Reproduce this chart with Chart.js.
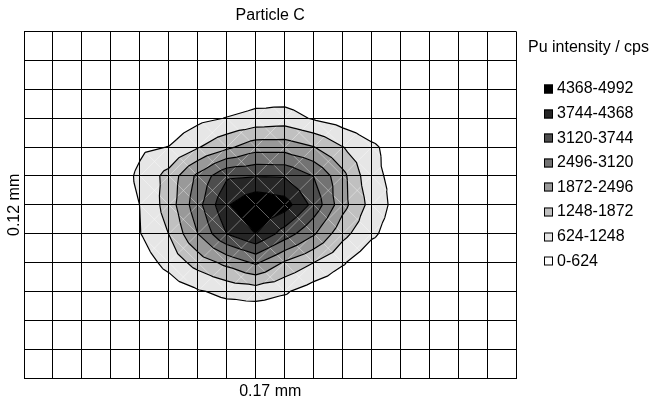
<!DOCTYPE html>
<html>
<head>
<meta charset="utf-8">
<script src="https://cdn.jsdelivr.net/npm/chart.js@4.4.0/dist/chart.umd.min.js"></script>
<style>
  html, body { margin: 0; padding: 0; background: #fff; }
  #wrap { width: 651px; height: 404px; }
</style>
</head>
<body>
<div id="wrap"><canvas id="contour-chart"></canvas></div>
<script>
// contour levels (cps) and legend labels, top entry first
const levels = [0, 624, 1248, 1872, 2496, 3120, 3744, 4368, 4992];
const bandLabels = ["4368-4992", "3744-4368", "3120-3744", "2496-3120",
                    "1872-2496", "1248-1872", "624-1248", "0-624"];
const legendTitle = "Pu intensity / cps";

// intensity read at the grid nodes, one array per row (top row first), 18 columns
const r0  = [0,0,0,0,0,0,0,0,0,0,0,0,0,0,0,0,0,0];
const r1  = [0,0,0,0,0,0,0,0,0,0,0,0,0,0,0,0,0,0];
const r2  = [0,0,0,0,0,0,0,50,250,200,50,0,0,0,0,0,0,0];
const r3  = [0,0,0,0,100,150,450,650,820,900,560,300,100,0,0,0,0,0];
const r4  = [0,0,0,50,500,640,1200,1740,2230,2230,1900,1270,740,300,0,0,0,0];
const r5  = [0,0,0,140,760,1470,2650,3650,3720,3690,3100,2060,750,450,50,0,0,0];
const r6  = [0,0,0,200,630,1530,2900,4300,4900,4650,3550,2090,1010,330,0,0,0,0];
const r7  = [0,0,0,100,600,1260,2500,3760,4380,3460,2580,1440,740,250,0,0,0,0];
const r8  = [0,0,0,0,300,820,1500,2050,2600,1800,1250,690,150,50,0,0,0,0];
const r9  = [0,0,0,0,50,260,560,790,900,700,300,100,0,0,0,0,0,0];
const r10 = [0,0,0,0,0,0,50,150,100,80,30,0,0,0,0,0,0,0];
const r11 = [0,0,0,0,0,0,0,0,0,0,0,0,0,0,0,0,0,0];
const r12 = [0,0,0,0,0,0,0,0,0,0,0,0,0,0,0,0,0,0];
const intensityRows = [r0, r1, r2, r3, r4, r5, r6, r7, r8, r9, r10, r11, r12];

// grey shades for bands 0..7 (0-624 up to 4368-4992)
const bandColors = ["#ffffff", "#e6e6e6", "#c0c0c0", "#999999",
                    "#737373", "#4d4d4d", "#262626", "#000000"];

const FONT = '"Liberation Sans", Arial, sans-serif';

const nodes = [];
intensityRows.forEach((row, j) => row.forEach((v, i) => nodes.push({x: i, y: j, v: v})));

// keep the part of a polygon where value is above (or below) t
function clipPoly(poly, t, above) {
    const s = above ? 1 : -1;
    const out = [];
    for (let k = 0; k < poly.length; k++) {
        const a = poly[k], b = poly[(k + 1) % poly.length];
        const da = (a.v - t) * s, db = (b.v - t) * s;
        if (da >= 0) out.push(a);
        if ((da >= 0) !== (db >= 0)) {
            const f = da / (da - db);
            out.push({x: a.x + f * (b.x - a.x), y: a.y + f * (b.y - a.y), v: t});
        }
    }
    return out;
}

const contourPlugin = {
    id: 'contour',
    beforeDatasetsDraw(chart) {
        const ctx = chart.ctx;
        const xs = chart.scales.x, ys = chart.scales.y;
        const area = chart.chartArea;
        const px = p => xs.getPixelForValue(p.x);
        const py = p => ys.getPixelForValue(p.y);
        const nRows = intensityRows.length, nCols = intensityRows[0].length;
        const val = (i, j) => intensityRows[j][i];

        // split each cell in four triangles round its centre
        const tris = [];
        for (let j = 0; j < nRows - 1; j++) {
            for (let i = 0; i < nCols - 1; i++) {
                const A = {x: i, y: j, v: val(i, j)};
                const B = {x: i + 1, y: j, v: val(i + 1, j)};
                const C = {x: i + 1, y: j + 1, v: val(i + 1, j + 1)};
                const D = {x: i, y: j + 1, v: val(i, j + 1)};
                if (A.v + B.v + C.v + D.v === 0) continue;
                const M = {x: i + 0.5, y: j + 0.5, v: (A.v + B.v + C.v + D.v) / 4};
                tris.push([A, B, M], [B, C, M], [C, D, M], [D, A, M]);
            }
        }

        ctx.save();
        ctx.beginPath();
        ctx.rect(area.left, area.top, area.right - area.left, area.bottom - area.top);
        ctx.clip();

        // filled bands
        tris.forEach(tri => {
            for (let k = 1; k < levels.length - 1; k++) {
                let poly = clipPoly(tri, levels[k], true);
                if (poly.length < 3) break;
                poly = clipPoly(poly, levels[k + 1], false);
                if (poly.length < 3) continue;
                ctx.beginPath();
                poly.forEach((p, n) => n ? ctx.lineTo(px(p), py(p)) : ctx.moveTo(px(p), py(p)));
                ctx.closePath();
                ctx.fillStyle = bandColors[k];
                ctx.fill();
            }
        });

        // faint white diagonals of the triangulation
        ctx.strokeStyle = 'rgba(255,255,255,0.3)';
        ctx.lineWidth = 0.6;
        ctx.beginPath();
        for (let j = 0; j < nRows - 1; j++) {
            for (let i = 0; i < nCols - 1; i++) {
                ctx.moveTo(xs.getPixelForValue(i), ys.getPixelForValue(j));
                ctx.lineTo(xs.getPixelForValue(i + 1), ys.getPixelForValue(j + 1));
                ctx.moveTo(xs.getPixelForValue(i + 1), ys.getPixelForValue(j));
                ctx.lineTo(xs.getPixelForValue(i), ys.getPixelForValue(j + 1));
            }
        }
        ctx.stroke();

        // contour lines
        ctx.strokeStyle = '#000';
        ctx.lineWidth = 1.2;
        ctx.lineJoin = 'round';
        ctx.beginPath();
        tris.forEach(tri => {
            for (let k = 1; k < levels.length - 1; k++) {
                const t = levels[k];
                const pts = [];
                for (let e = 0; e < 3; e++) {
                    const a = tri[e], b = tri[(e + 1) % 3];
                    if ((a.v >= t) !== (b.v >= t)) {
                        const f = (t - a.v) / (b.v - a.v);
                        pts.push({x: a.x + f * (b.x - a.x), y: a.y + f * (b.y - a.y)});
                    }
                }
                if (pts.length === 2) {
                    ctx.moveTo(px(pts[0]), py(pts[0]));
                    ctx.lineTo(px(pts[1]), py(pts[1]));
                }
            }
        });
        ctx.stroke();
        ctx.restore();
    },
    afterDraw(chart) {
        const ctx = chart.ctx;
        ctx.save();
        ctx.font = '16px ' + FONT;
        ctx.fillStyle = '#000';
        ctx.textBaseline = 'middle';
        ctx.textAlign = 'left';
        ctx.fillText(legendTitle, 528, 48);
        bandLabels.forEach((lab, k) => {
            const y = 89 + k * 24.6;
            ctx.fillStyle = bandColors[bandColors.length - 1 - k];
            ctx.fillRect(544, Math.round(y) - 4.5, 9, 9);
            ctx.strokeStyle = '#000';
            ctx.lineWidth = 1;
            ctx.strokeRect(544.5, Math.round(y) - 4, 8, 8);
            ctx.fillStyle = '#000';
            ctx.fillText(lab, 557, y);
        });
        ctx.restore();
    }
};

Chart.defaults.font.family = FONT;
Chart.defaults.color = '#000';

new Chart(document.getElementById("contour-chart"), {
    type: 'scatter',
    data: {
        datasets: [{
            label: "Particle C",
            data: nodes,
            pointRadius: 0,
            showLine: false
        }]
    },
    options: {
        maintainAspectRatio: false,
        responsive: true,
        animation: false,
        events: [],
        layout: {padding: {right: 134.5}},
        plugins: {
            title: {
                display: true,
                text: 'Particle C',
                fullSize: false,
                font: {size: 16, weight: 'normal'},
                color: '#000',
                padding: {top: 6, bottom: 6.5}
            },
            legend: {display: false},
            tooltip: {enabled: false}
        },
        scales: {
            x: {
                type: 'linear',
                min: 0,
                max: 17,
                ticks: {display: false, stepSize: 1},
                grid: {color: '#000', lineWidth: 1, drawTicks: false, z: 1},
                border: {display: true, color: '#000', z: 1},
                title: {display: true, text: '0.17 mm', font: {size: 16}, padding: {top: 4.4, bottom: 2.4}}
            },
            y: {
                type: 'linear',
                min: 0,
                max: 12,
                reverse: true,
                ticks: {display: false, stepSize: 1},
                grid: {color: '#000', lineWidth: 1, drawTicks: false, z: 1},
                border: {display: true, color: '#000', z: 1},
                title: {display: true, text: '0.12 mm', font: {size: 16}, padding: {top: 4.8, bottom: 0}}
            }
        }
    },
    plugins: [contourPlugin]
});
</script>
</body>
</html>
